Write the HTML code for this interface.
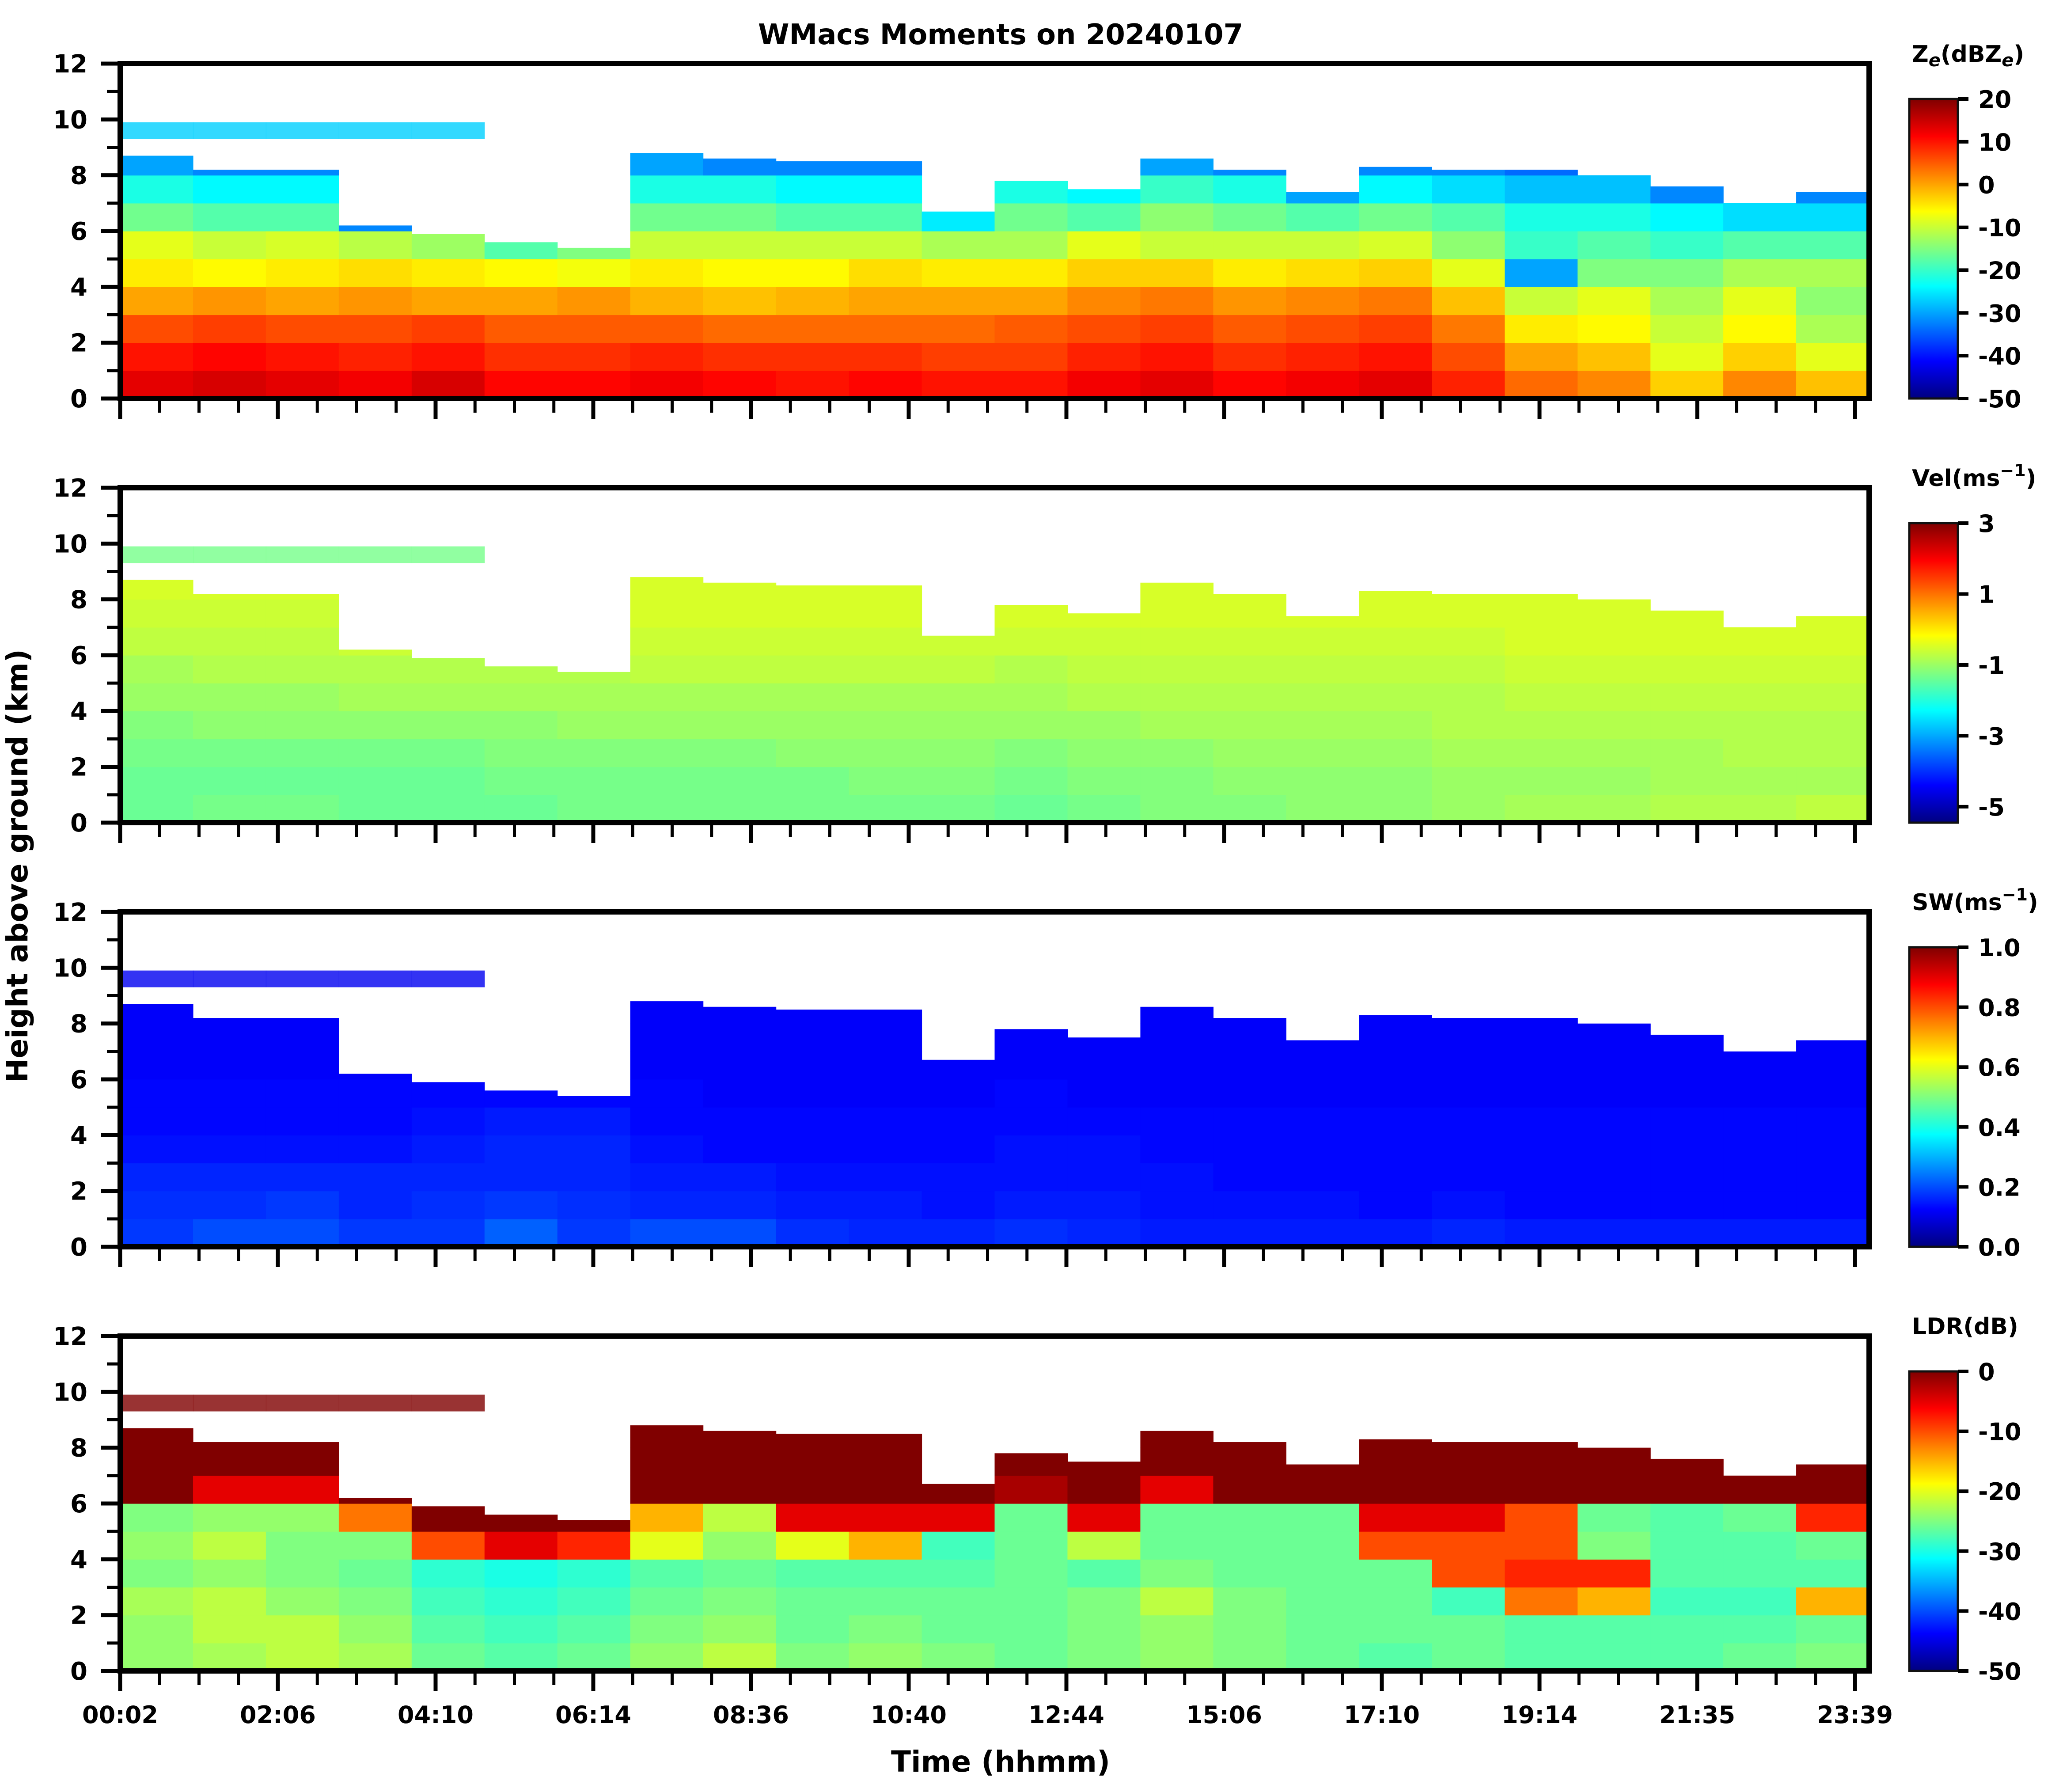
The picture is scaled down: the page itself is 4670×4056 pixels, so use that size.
<!DOCTYPE html>
<html><head><meta charset="utf-8"><style>
html,body{margin:0;padding:0;background:#fff}
svg{display:block}
text{font-family:"DejaVu Sans","Liberation Sans",sans-serif;font-weight:bold;fill:#000}
</style></head><body>
<svg id="fig" xmlns="http://www.w3.org/2000/svg" width="4670" height="4056" viewBox="0 0 4670 4056">
<text x="2265" y="100" font-size="64" text-anchor="middle">WMacs Moments on 20240107</text>
<text transform="translate(62,1960) rotate(-90)" font-size="66" text-anchor="middle">Height above ground (km)</text>
<text x="2265" y="4010" font-size="66" text-anchor="middle">Time (hhmm)</text>
</svg>
<script>
// ---------- data ----------
const timeLabels=["00:02","02:06","04:10","06:14","08:36","10:40","12:44","15:06","17:10","19:14","21:35","23:39"];
const heightTicks=[0,2,4,6,8,10,12];
const cloudTops=[8.7,8.2,8.2,6.2,5.9,5.6,5.4,8.8,8.6,8.5,8.5,6.7,7.8,7.5,8.6,8.2,7.4,8.3,8.2,8.2,8.0,7.6,7.0,7.4];
const upperLayerCols=[0,1,2,3,4];
const upperLayerBase=9.3, upperLayerTop=9.9;
const ze0=[13,14,13,12,14,11,11,12,11,10,11,10,10,12,13,11,12,13,9,4,2,-3,2,-2];
const ze1=[10,11,10,9,10,8,8,9,8,8,8,7,7,9,10,8,9,10,6,0,-2,-8,-3,-8];
const ze2=[6,7,6,6,7,5,5,5,4,4,4,4,5,6,7,5,6,7,3,-5,-6,-10,-6,-12];
const ze3=[0,1,0,1,0,0,1,-1,-2,-1,0,0,0,2,3,1,2,3,-2,-10,-8,-12,-8,-14];
const ze4=[-5,-6,-5,-4,-5,-6,-7,-5,-6,-6,-4,-5,-5,-3,-3,-5,-4,-3,-8,-30,-15,-15,-12,-12];
const ze5=[-8,-10,-9,-11,-13,-18,-15,-10,-10,-10,-10,-12,-12,-8,-10,-10,-10,-9,-14,-20,-18,-20,-18,-18];
const ze6=[-16,-18,-18,-32,-32,-32,-32,-16,-16,-18,-18,-25,-16,-18,-14,-16,-18,-16,-18,-22,-22,-24,-26,-26];
const ze7=[-22,-24,-24,-30,-30,-30,-30,-22,-22,-24,-24,-30,-22,-24,-20,-22,-30,-24,-26,-28,-28,-32,-32,-32];
const ze8=[-30,-32,-32,-32,-32,-32,-32,-30,-32,-32,-32,-32,-32,-30,-30,-32,-32,-32,-32,-34,-34,-34,-34,-34];
const zeUpper=-27;
const vel0=[-1.4,-1.3,-1.3,-1.4,-1.4,-1.4,-1.3,-1.3,-1.3,-1.3,-1.3,-1.3,-1.4,-1.3,-1.2,-1.2,-1.1,-1.1,-1.0,-0.9,-0.9,-0.8,-0.8,-0.7];
const vel1=[-1.4,-1.4,-1.4,-1.4,-1.4,-1.3,-1.3,-1.3,-1.3,-1.3,-1.2,-1.2,-1.3,-1.2,-1.2,-1.1,-1.1,-1.1,-1.0,-1.0,-1.0,-0.9,-0.9,-0.9];
const vel2=[-1.3,-1.3,-1.3,-1.3,-1.3,-1.2,-1.2,-1.2,-1.2,-1.1,-1.1,-1.1,-1.2,-1.1,-1.1,-1.0,-1.0,-1.0,-0.9,-0.9,-0.9,-0.9,-0.8,-0.8];
const vel3=[-1.2,-1.1,-1.1,-1.1,-1.1,-1.1,-1.0,-1.0,-1.0,-1.0,-1.0,-1.0,-1.0,-1.0,-0.9,-0.9,-0.9,-0.9,-0.8,-0.8,-0.8,-0.8,-0.8,-0.8];
const vel4=[-1.0,-1.0,-1.0,-0.9,-0.9,-0.9,-0.9,-0.9,-0.9,-0.9,-0.9,-0.9,-0.9,-0.8,-0.8,-0.8,-0.8,-0.8,-0.8,-0.7,-0.7,-0.7,-0.7,-0.7];
const vel5=[-0.9,-0.8,-0.8,-0.8,-0.8,-0.8,-0.8,-0.7,-0.7,-0.7,-0.7,-0.7,-0.8,-0.7,-0.7,-0.7,-0.7,-0.7,-0.7,-0.6,-0.6,-0.6,-0.6,-0.6];
const vel6=[-0.7,-0.7,-0.7,-0.6,-0.6,-0.6,-0.6,-0.6,-0.6,-0.6,-0.6,-0.6,-0.6,-0.6,-0.6,-0.6,-0.6,-0.6,-0.6,-0.5,-0.5,-0.5,-0.5,-0.5];
const vel7=[-0.6,-0.6,-0.6,-0.5,-0.5,-0.5,-0.5,-0.5,-0.5,-0.5,-0.5,-0.5,-0.5,-0.5,-0.5,-0.5,-0.5,-0.5,-0.5,-0.5,-0.5,-0.5,-0.5,-0.5];
const vel8=[-0.5,-0.5,-0.5,-0.5,-0.5,-0.5,-0.5,-0.5,-0.5,-0.5,-0.5,-0.5,-0.5,-0.5,-0.5,-0.5,-0.5,-0.5,-0.5,-0.5,-0.5,-0.5,-0.5,-0.5];
const velUpper=-1.3;
const sw0=[0.18,0.2,0.2,0.18,0.18,0.22,0.18,0.2,0.2,0.17,0.16,0.16,0.17,0.16,0.15,0.15,0.15,0.15,0.16,0.15,0.15,0.15,0.15,0.15];
const sw1=[0.17,0.17,0.18,0.16,0.17,0.18,0.17,0.16,0.16,0.15,0.15,0.14,0.15,0.15,0.14,0.14,0.14,0.13,0.14,0.13,0.13,0.13,0.13,0.13];
const sw2=[0.16,0.16,0.16,0.16,0.16,0.16,0.16,0.15,0.15,0.14,0.14,0.14,0.14,0.14,0.14,0.13,0.13,0.13,0.13,0.13,0.13,0.13,0.13,0.13];
const sw3=[0.14,0.14,0.14,0.14,0.15,0.16,0.16,0.14,0.13,0.13,0.13,0.13,0.14,0.14,0.13,0.13,0.13,0.13,0.13,0.13,0.13,0.13,0.13,0.13];
const sw4=[0.13,0.13,0.13,0.13,0.14,0.15,0.15,0.13,0.13,0.13,0.13,0.13,0.13,0.13,0.13,0.13,0.13,0.13,0.13,0.13,0.13,0.13,0.13,0.13];
const sw5=[0.13,0.13,0.13,0.13,0.13,0.13,0.13,0.13,0.12,0.12,0.12,0.12,0.13,0.12,0.12,0.12,0.12,0.12,0.12,0.12,0.12,0.12,0.12,0.12];
const sw6=[0.12,0.12,0.12,0.12,0.12,0.12,0.12,0.12,0.12,0.12,0.12,0.12,0.12,0.12,0.12,0.12,0.12,0.12,0.12,0.12,0.12,0.12,0.12,0.12];
const sw7=[0.12,0.12,0.12,0.12,0.12,0.12,0.12,0.12,0.12,0.12,0.12,0.12,0.12,0.12,0.12,0.12,0.12,0.12,0.12,0.12,0.12,0.12,0.12,0.12];
const sw8=[0.12,0.12,0.12,0.12,0.12,0.12,0.12,0.12,0.12,0.12,0.12,0.12,0.12,0.12,0.12,0.12,0.12,0.12,0.12,0.12,0.12,0.12,0.12,0.12];
const swUpper=0.11;
const ldr0=[-24,-23,-22,-23,-26,-27,-26,-24,-22,-25,-24,-25,-26,-25,-24,-25,-26,-27,-26,-27,-27,-27,-26,-25];
const ldr1=[-24,-22,-22,-24,-27,-28,-27,-25,-24,-26,-25,-26,-26,-25,-24,-25,-26,-26,-26,-27,-27,-27,-27,-26];
const ldr2=[-23,-22,-24,-25,-28,-29,-28,-26,-25,-26,-26,-26,-26,-25,-22,-25,-26,-26,-28,-12,-15,-28,-28,-15];
const ldr3=[-25,-24,-25,-26,-29,-30,-29,-27,-26,-27,-27,-27,-26,-27,-25,-26,-26,-26,-10,-8,-8,-27,-27,-27];
const ldr4=[-24,-22,-25,-25,-10,-5,-8,-20,-24,-20,-15,-28,-26,-22,-26,-26,-26,-10,-10,-10,-25,-27,-27,-26];
const ldr5=[-25,-24,-24,-12,0,0,0,-15,-22,-5,-5,-5,-26,-5,-26,-26,-26,-5,-5,-10,-26,-27,-26,-8];
const ldr6=[0,-5,-5,0,0,0,0,0,0,0,0,0,-2,0,-5,0,0,0,0,0,0,0,0,0];
const ldr7=[0,0,0,0,0,0,0,0,0,0,0,0,0,0,0,0,0,0,0,0,0,0,0,0];
const ldr8=[0,0,0,0,0,0,0,0,0,0,0,0,0,0,0,0,0,0,0,0,0,0,0,0];
const ldrUpper=0;
const zeTicks=[20,10,0,-10,-20,-30,-40,-50];
const velTicks=[3,1,-1,-3,-5];
const swTicks=["1.0","0.8","0.6","0.4","0.2","0.0"];
const ldrTicks=[0,-10,-20,-30,-40,-50];

// ---------- layout ----------
const NS="http://www.w3.org/2000/svg";
const svg=document.getElementById('fig');
const X0=272,X1=4231,MAJ=357;
const nCols=cloudTops.length;
const tMax=(X1-X0)/MAJ;
function xS(t){return X0+t*MAJ;}
function mk(tag,attrs,parent){const e=document.createElementNS(NS,tag);for(const k in attrs)e.setAttribute(k,attrs[k]);(parent||svg).appendChild(e);return e;}
function jet(x){x=Math.max(0,Math.min(1,x));const c=v=>Math.round(255*Math.max(0,Math.min(1,v)));
 return `rgb(${c(1.5-Math.abs(4*x-3))},${c(1.5-Math.abs(4*x-2))},${c(1.5-Math.abs(4*x-1))})`;}

const defs=mk('defs',{});
const grad=mk('linearGradient',{id:'jetg',x1:0,y1:1,x2:0,y2:0},defs);
for(let i=0;i<=40;i++){mk('stop',{offset:i/40,'stop-color':jet(i/40)},grad);}

const panels=[
 {name:'reflectivity',rows:[ze0,ze1,ze2,ze3,ze4,ze5,ze6,ze7,ze8],upper:zeUpper,vmin:-50,vmax:20,ticks:zeTicks,title:'Z<tspan font-size="40" dy="10" font-style="italic">e</tspan><tspan dy="-10">(dBZ</tspan><tspan font-size="40" dy="10" font-style="italic">e</tspan><tspan dy="-10">)</tspan>'},
 {name:'velocity',rows:[vel0,vel1,vel2,vel3,vel4,vel5,vel6,vel7,vel8],upper:velUpper,vmin:-5.45,vmax:3,ticks:velTicks,title:'Vel(ms<tspan font-size="38" dy="-22">−1</tspan><tspan dy="22">)</tspan>'},
 {name:'spectral-width',rows:[sw0,sw1,sw2,sw3,sw4,sw5,sw6,sw7,sw8],upper:swUpper,vmin:0,vmax:1,ticks:swTicks,title:'SW(ms<tspan font-size="38" dy="-22">−1</tspan><tspan dy="22">)</tspan>'},
 {name:'ldr',rows:[ldr0,ldr1,ldr2,ldr3,ldr4,ldr5,ldr6,ldr7,ldr8],upper:ldrUpper,vmin:-50,vmax:0,ticks:ldrTicks,title:'LDR(dB)'}
];

panels.forEach((p,pi)=>{
 const top=144+960*pi,H=758,bot=top+H;
 const yS=h=>top+H*(1-h/12);
 const g=mk('g',{});
 
 
 const norm=v=>(v-p.vmin)/(p.vmax-p.vmin);
 for(let c=0;c<nCols;c++){
  const t0=c*tMax/nCols,t1=(c+1)*tMax/nCols;
  const xa=xS(t0),xb=xS(t1);
  for(let r=0;r<p.rows.length;r++){
   const h0=r,h1=Math.min(r+1,cloudTops[c]);
   if(h1<=h0)continue;
   const rc=mk('rect',{x:xa,y:yS(h1),width:xb-xa+0.6,height:yS(h0)-yS(h1)+0.6,fill:jet(norm(p.rows[r][c]))},g);
   
   
  }
 }
 upperLayerCols.forEach(c=>{
  const xa=xS(c*tMax/nCols),xb=xS((c+1)*tMax/nCols);
  const rc=mk('rect',{x:xa,y:yS(upperLayerTop),width:xb-xa+0.6,height:yS(upperLayerBase)-yS(upperLayerTop),fill:jet(norm(p.upper)),opacity:0.8},g);
  
  
 });
 for(let h=0;h<=12;h++){
  const major=h%2===0;
  mk('line',{x1:X0-(major?44:30),x2:X0,y1:yS(h),y2:yS(h),stroke:'#000','stroke-width':major?9:7},g);
 }
 heightTicks.forEach(h=>{
  const t=mk('text',{x:198,y:yS(h)+20,'font-size':56,'text-anchor':'end'},g);
  t.textContent=h;
  
  
 });
 for(let q=0;q<=44;q++){
  const t=q/4;if(t>tMax)break;
  const major=q%4===0;
  mk('line',{x1:xS(t),x2:xS(t),y1:bot,y2:bot+(major?46:32),stroke:'#000','stroke-width':major?9:7},g);
 }
 if(pi===3){
  timeLabels.forEach((lab,i)=>{
   const t=mk('text',{x:xS(i),y:3900,'font-size':54,'text-anchor':'middle'},g);
   t.textContent=lab;
   
   
  });
 }
 const fr=mk('rect',{x:X0,y:top,width:X1-X0,height:H,fill:'none',stroke:'#000','stroke-width':12},g);
 
 
 const cbTop=top+80,cbBot=bot,cbX=4322,cbW=110;
 const cb=mk('rect',{x:cbX,y:cbTop,width:cbW,height:cbBot-cbTop,fill:'url(#jetg)',stroke:'#111','stroke-width':5},g);
 
 
 p.ticks.forEach(v=>{
  const y=cbBot-(cbBot-cbTop)*norm(parseFloat(v));
  mk('line',{x1:cbX+cbW,x2:cbX+cbW+24,y1:y,y2:y,stroke:'#000','stroke-width':8},g);
  const t=mk('text',{x:4478,y:y+20,'font-size':54},g);
  t.textContent=v;
  
  
 });
 const tt=mk('text',{x:4328,y:top-4,'font-size':52},g);
 tt.innerHTML=p.title;
 
 
});
</script>
</body></html>
